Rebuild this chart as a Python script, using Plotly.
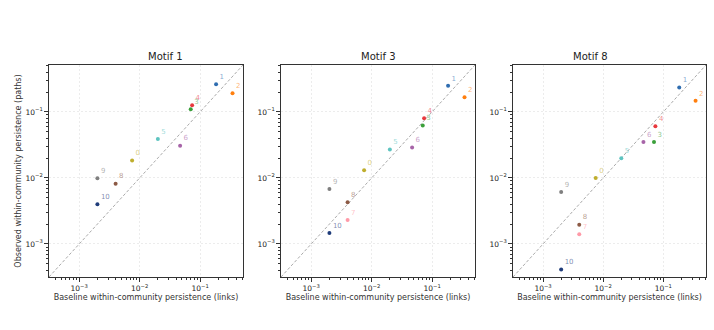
import plotly.graph_objects as go

communities = ["0", "1", "2", "3", "4", "5", "6", "7", "8", "9", "10"]
baseline = [0.0075, 0.184, 0.344, 0.070, 0.0738, 0.020, 0.0467, 0.0040, 0.0040, 0.0020, 0.0020]
motif1 = [0.0183, 0.263, 0.192, 0.110, 0.126, 0.039, 0.0308, None, 0.0082, 0.0099, 0.0040]
motif3 = [0.0131, 0.248, 0.167, 0.062, 0.080, 0.0269, 0.0288, 0.00231, 0.00427, 0.0068, 0.00147]
motif8 = [0.0100, 0.234, 0.147, 0.0351, 0.0607, 0.0199, 0.0351, 0.0014, 0.00196, 0.00614, 0.00041]
panel_titles = ["Motif 1", "Motif 3", "Motif 8"]
colors = ["#bfae2e", "#2f6db0", "#ff7f0e", "#3aa03a", "#e8383d", "#5ec4c0",
          "#a764a8", "#ff9aa8", "#8c5a45", "#7f7f7f", "#1f3c7a"]
tick_vals = [1e-3, 1e-2, 1e-1]
tick_text = ["10<sup>−3</sup>", "10<sup>−2</sup>", "10<sup>−1</sup>"]
log_lo, log_hi = -3.5, -0.29

def hex_rgba(h, a):
    h = h.lstrip("#")
    return "rgba(%d,%d,%d,%.2f)" % (int(h[0:2], 16), int(h[2:4], 16), int(h[4:6], 16), a)

label_colors = [hex_rgba(c, 0.6) for c in colors]
series = [motif1, motif3, motif8]

x_domains = [(49/714, 243/714), (281/714, 475/714), (513/714, 706/714)]
y_domain = (1 - 277/330, 1 - 65/330)

minor_vals = [m * 10**e for e in range(-4, 1) for m in range(2, 10)]

FONT = "DejaVu Sans"
fig = go.Figure()
lo, hi = 10**log_lo, 10**log_hi
for i, ys in enumerate(series):
    xa = "x" if i == 0 else "x%d" % (i + 1)
    ya = "y" if i == 0 else "y%d" % (i + 1)
    fig.add_trace(go.Scatter(x=[lo, hi], y=[lo, hi], mode="lines", xaxis=xa, yaxis=ya,
                             line=dict(color="#a0a0a0", width=0.9, dash="3px,2px"),
                             hoverinfo="skip", showlegend=False))
    xs = [b for b, y in zip(baseline, ys) if y is not None]
    yv = [y for y in ys if y is not None]
    cs = [c for c, y in zip(colors, ys) if y is not None]
    lc = [c for c, y in zip(label_colors, ys) if y is not None]
    tx = [t for t, y in zip(communities, ys) if y is not None]
    fig.add_trace(go.Scatter(x=xs, y=yv, mode="markers+text", xaxis=xa, yaxis=ya,
                             marker=dict(color=cs, size=4),
                             text=tx, textposition="top right",
                             textfont=dict(color=lc, size=7, family=FONT),
                             showlegend=False))
    axis_common = dict(type="log", range=[log_lo, log_hi],
                       tickvals=tick_vals, ticktext=tick_text,
                       ticks="outside", ticklen=3.5, tickwidth=0.8, tickcolor="#333",
                       showline=True, linecolor="#333", linewidth=1.3, mirror=True,
                       showgrid=True, gridcolor="#ececec", griddash="2px,2px", gridwidth=0.7,
                       zeroline=False,
                       minor=dict(tickvals=minor_vals, ticks="outside", ticklen=2,
                                  tickwidth=0.6, tickcolor="#333", showgrid=False),
                       tickfont=dict(size=7.5, family=FONT, color="#222"))
    xkey = "xaxis" if i == 0 else "xaxis%d" % (i + 1)
    ykey = "yaxis" if i == 0 else "yaxis%d" % (i + 1)
    fig.layout[xkey] = dict(axis_common, domain=list(x_domains[i]), anchor=ya,
                            title=dict(text="Baseline within-community persistence (links)",
                                       font=dict(size=8, family=FONT, color="#333"), standoff=2))
    ydict = dict(axis_common, domain=list(y_domain), anchor=xa)
    if i == 0:
        ydict["title"] = dict(text="Observed within-community persistence (paths)",
                              font=dict(size=8, family=FONT, color="#333"), standoff=2)
    fig.layout[ykey] = ydict
    fig.add_annotation(text=panel_titles[i], xref="paper", yref="paper",
                       x=sum(x_domains[i]) / 2, y=y_domain[1], yanchor="bottom",
                       yshift=1, showarrow=False,
                       font=dict(size=10, family=FONT, color="#222"))

fig.add_annotation(text="links", xref="paper", yref="paper", x=621/714, y=4/330,
                   yanchor="top", xanchor="center", showarrow=False,
                   font=dict(size=16, family="DejaVu Serif", color="#222"))

fig.update_layout(width=714, height=330, margin=dict(l=0, r=0, t=0, b=0),
                  paper_bgcolor="white", plot_bgcolor="white",
                  font=dict(family=FONT, color="#222"))
fig.write_html("out.html")
